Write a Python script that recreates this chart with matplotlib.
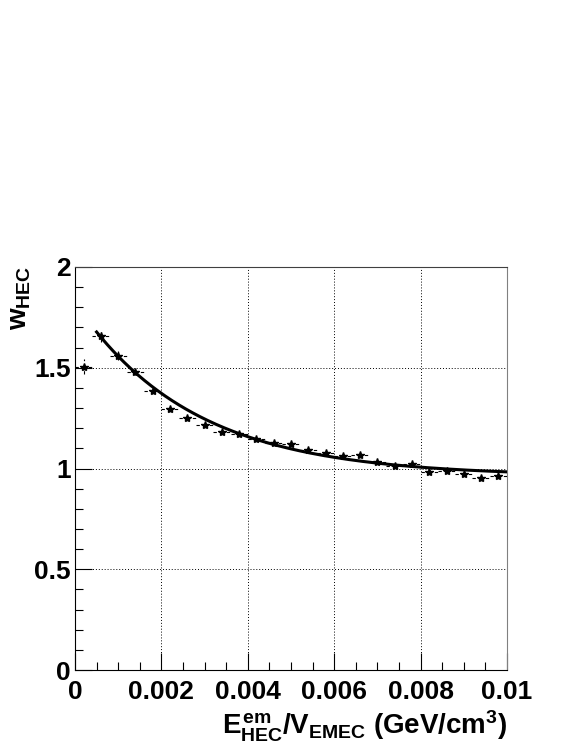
import numpy as np
import matplotlib
matplotlib.use("Agg")
import matplotlib.pyplot as plt
from matplotlib.ticker import MultipleLocator

plt.rcParams['font.family'] = ['Liberation Sans', 'DejaVu Sans']
plt.rcParams['mathtext.fontset'] = 'custom'
plt.rcParams['mathtext.rm'] = 'Liberation Sans:bold'
plt.rcParams['mathtext.bf'] = 'Liberation Sans:bold'
plt.rcParams['mathtext.it'] = 'Liberation Sans:bold'

# ---- data ----
bin_centers = [0.0002, 0.0006, 0.0010, 0.0014, 0.0018, 0.0022, 0.0026, 0.0030,
               0.0034, 0.0038, 0.0042, 0.0046, 0.0050, 0.0054, 0.0058, 0.0062,
               0.0066, 0.0070, 0.0074, 0.0078, 0.0082, 0.0086, 0.0090, 0.0094,
               0.0098]
w_hec = [1.505, 1.659, 1.560, 1.480, 1.385, 1.295, 1.252, 1.214,
         1.183, 1.170, 1.146, 1.125, 1.120, 1.093, 1.075, 1.064,
         1.069, 1.032, 1.014, 1.021, 0.984, 0.988, 0.973, 0.954,
         0.964]
w_err = [0.037, 0.030, 0.022, 0.015, 0.012, 0.010, 0.009, 0.008,
         0.008, 0.007, 0.007, 0.007, 0.007, 0.007, 0.007, 0.007,
         0.007, 0.007, 0.007, 0.007, 0.007, 0.007, 0.007, 0.007,
         0.007]
bin_half_width = 0.0002

# fit: p0 + p1*exp(-p2*x), drawn over [fit_xmin, fit_xmax]
fit_p0, fit_p1, fit_p2 = 0.962, 0.861, 370.0
fit_xmin, fit_xmax = 0.0005, 0.0100

xticks = [0, 0.002, 0.004, 0.006, 0.008, 0.01]
xticklabels = ['0', '0.002', '0.004', '0.006', '0.008', '0.01']
yticks = [0, 0.5, 1, 1.5, 2]
yticklabels = ['0', '0.5', '1', '1.5', '2']

# ---- figure ----
fig = plt.figure(figsize=(5.81, 7.52), dpi=100)
ax = fig.add_axes([75/581, 1-670/752, (507-75)/581, (670-267)/752])

eb = ax.errorbar(bin_centers, w_hec, yerr=w_err, xerr=bin_half_width,
                 fmt='*', color='black', markersize=6, elinewidth=0.8,
                 capsize=0, zorder=3)
for c in eb[2]:
    c.set_linestyle((0, (3, 3)))

xf = np.linspace(fit_xmin, fit_xmax, 300)
ax.plot(xf, fit_p0 + fit_p1*np.exp(-fit_p2*xf), color='black', lw=2.2, zorder=4)

ax.set_xlim(0, 0.01)
ax.set_ylim(0, 2)
ax.set_xticks(xticks)
ax.set_xticklabels(xticklabels)
ax.set_yticks(yticks)
ax.set_yticklabels(yticklabels)
ax.xaxis.set_minor_locator(MultipleLocator(0.0005))
ax.yaxis.set_minor_locator(MultipleLocator(0.1))
ax.tick_params(which='both', direction='in', top=False, right=False,
               labelsize=19)
ax.tick_params(which='major', length=12, width=0.8)
ax.tick_params(which='minor', length=6, width=0.8)
for lab in ax.get_xticklabels() + ax.get_yticklabels():
    lab.set_fontweight('bold')
ax.tick_params(axis='x', pad=7)
ax.tick_params(axis='y', pad=3)

ax.grid(True, which='major', linestyle=(0, (1, 2)), color='black', lw=0.7)
for s in ax.spines.values():
    s.set_linewidth(0.8)
ax.spines['right'].set_color('#808080')
ax.spines['top'].set_color('#404040')

fig.text(507/581, 1-734/752, r'$E^{em}_{HEC}/V_{EMEC}$ (GeV/cm$^{3}$)',
         ha='right', va='baseline', fontsize=20, fontweight='bold')
fig.text(20/581, 1-266/752, r'$w_{HEC}$', rotation=90, ha='center', va='top',
         fontsize=20, fontweight='bold')

fig.savefig('out.png', dpi=100)
